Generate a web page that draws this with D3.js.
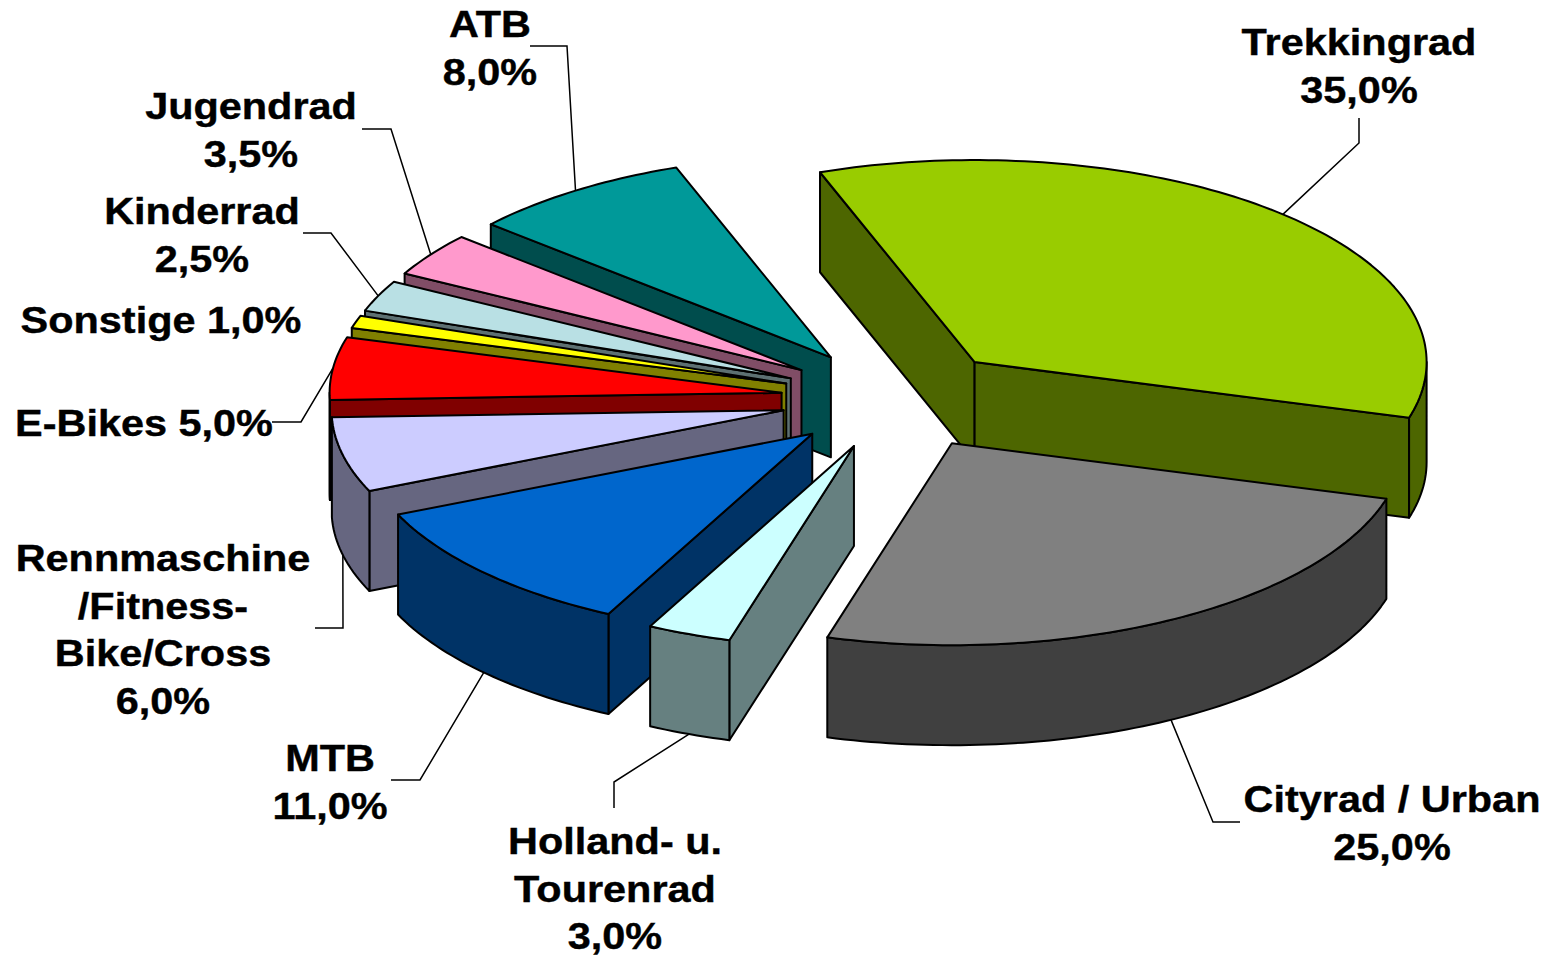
<!DOCTYPE html>
<html>
<head>
<meta charset="utf-8">
<script src="https://cdn.jsdelivr.net/npm/d3@7"></script>
<style>
  html, body { margin: 0; padding: 0; background: #fff; }
  svg { display: block; }
  text { font-family: "Liberation Sans", Arial, sans-serif; font-weight: bold; font-size: 37px; fill: #000; stroke: #000; stroke-width: 0.4px; text-anchor: middle; }
</style>
</head>
<body>
<div id="chart"></div>
<script>
(function() {
  'use strict';

  // clockwise, starting with Trekkingrad
  var categories = ["Trekkingrad", "Cityrad / Urban", "Holland- u. Tourenrad", "MTB", "Rennmaschine /Fitness-Bike/Cross",
    "E-Bikes", "Sonstige", "Kinderrad", "Jugendrad", "ATB"];
  var shares = [35, 25, 3, 11, 6, 5, 1, 2.5, 3.5, 8];
  var topColors = ["#99cc00", "#808080", "#ccffff", "#0066cc", "#ccccff", "#ff0000", "#ffff00", "#b9e0e4", "#ff99cc", "#009999"];
  var wallColors = ["#4d6600", "#404040", "#668080", "#003366", "#666680", "#800000", "#808000", "#5d7072", "#804d66", "#004d4d"];

  // back to front
  var drawOrder = ["ATB", "Jugendrad", "Kinderrad", "Sonstige", "E-Bikes", "Rennmaschine /Fitness-Bike/Cross",
    "MTB", "Holland- u. Tourenrad", "Trekkingrad", "Cityrad / Urban"];

  // label placement: wrapped name lines, centre x, first baseline, leader elbow points
  var labelLayout = {
    "Trekkingrad": {lines: ["Trekkingrad"], x: 1359, y: 55, leader: [[1359, 118], [1359, 143]]},
    "Cityrad / Urban": {lines: ["Cityrad / Urban"], x: 1392, y: 812, leader: [[1240, 822], [1213, 822]]},
    "Holland- u. Tourenrad": {lines: ["Holland- u.", "Tourenrad"], x: 615, y: 854, leader: [[614, 808], [614, 782]]},
    "MTB": {lines: ["MTB"], x: 330, y: 771, leader: [[391, 780], [420, 780]]},
    "Rennmaschine /Fitness-Bike/Cross": {lines: ["Rennmaschine", "/Fitness-", "Bike/Cross"], x: 163, y: 571, leader: [[315, 628], [343, 628]]},
    "E-Bikes": {inline: true, x: 144, y: 436, leader: [[272, 422], [301, 422]]},
    "Sonstige": {inline: true, x: 161, y: 333},
    "Kinderrad": {lines: ["Kinderrad"], x: 202, y: 224, leader: [[303, 233], [331, 233]]},
    "Jugendrad": {lines: ["Jugendrad"], x: 251, y: 119, leader: [[362, 129], [391, 129]]},
    "ATB": {lines: ["ATB"], x: 490, y: 37, leader: [[530, 46], [567, 46]]}
  };

  var width = 1547, height = 956;
  var centerX = 896, centerY = 399;
  var radiusX = 452, radiusY = 202;
  var depth = 100;
  var explodeX = 0.255, explodeY = 0.25;
  var startDeg = -20;
  var textStretch = 1.12;   // the labels in the picture are drawn wider than the font
  var lineHeight = 47.7;

  var svg = d3.select("#chart").append("svg")
    .attr("width", width)
    .attr("height", height);

  var xScale = d3.scaleLinear().domain([-1, 1]).range([centerX - radiusX, centerX + radiusX]);
  var yScale = d3.scaleLinear().domain([-1, 1]).range([centerY - radiusY, centerY + radiusY]);

  var pie = d3.pie()
    .sort(null)
    .startAngle(startDeg * Math.PI / 180)
    .endAngle((startDeg + 360) * Math.PI / 180);

  var line = d3.line();
  var arcs = pie(shares);

  // exploded position on the tilted ellipse, r = 1 is the rim
  function project(arc, angle, r, drop) {
    var mid = (arc.startAngle + arc.endAngle) / 2;
    return [
      xScale(explodeX * Math.sin(mid) + r * Math.sin(angle)),
      yScale(-explodeY * Math.cos(mid) - r * Math.cos(angle)) + (drop || 0)
    ];
  }

  function rimPoints(arc, a0, a1, drop) {
    var n = Math.max(2, Math.ceil((a1 - a0) / 0.02));
    return d3.range(n + 1).map(function(i) {
      return project(arc, a0 + (a1 - a0) * i / n, 1, drop);
    });
  }

  function radialWall(arc, angle) {
    return line([
      project(arc, 0, 0),
      project(arc, angle, 1),
      project(arc, angle, 1, depth),
      project(arc, 0, 0, depth)
    ]) + "Z";
  }

  drawOrder.forEach(function(name) {
    var i = categories.indexOf(name);
    var arc = arcs[i];
    var g = svg.append("g").attr("class", "slice");
    var wallStyle = function(sel) {
      sel.attr("fill", wallColors[i]).attr("stroke", "#000").attr("stroke-width", 2).attr("stroke-linejoin", "round");
    };

    // side faces turned towards the viewer
    if (Math.sin(arc.startAngle) < 0) g.append("path").attr("d", radialWall(arc, arc.startAngle)).call(wallStyle);
    if (Math.sin(arc.endAngle) > 0) g.append("path").attr("d", radialWall(arc, arc.endAngle)).call(wallStyle);

    // only the front half of the rim shows
    var a0 = Math.max(arc.startAngle, Math.PI / 2);
    var a1 = Math.min(arc.endAngle, 3 * Math.PI / 2);
    if (a1 > a0) {
      var rim = rimPoints(arc, a0, a1, 0).concat(rimPoints(arc, a0, a1, depth).reverse());
      g.append("path").attr("d", line(rim) + "Z").call(wallStyle);
    }

    var top = [project(arc, 0, 0)].concat(rimPoints(arc, arc.startAngle, arc.endAngle, 0));
    g.append("path")
      .attr("d", line(top) + "Z")
      .attr("fill", topColors[i])
      .attr("stroke", "#000")
      .attr("stroke-width", 2)
      .attr("stroke-linejoin", "round");
  });

  // leaders and labels
  var fmt = d3.format(".1f");
  function pct(v) { return fmt(v).replace(".", ",") + "%"; }

  categories.forEach(function(name, i) {
    var layout = labelLayout[name];
    var arc = arcs[i];
    var mid = (arc.startAngle + arc.endAngle) / 2;

    if (layout.leader) {
      var end = project(arc, mid, 1, Math.cos(mid) < 0 ? depth : 0);
      svg.append("path")
        .attr("d", line(layout.leader.concat([end])))
        .attr("fill", "none")
        .attr("stroke", "#000")
        .attr("stroke-width", 1.5);
    }

    var lines = layout.inline ? [name + " " + pct(shares[i])] : layout.lines.concat([pct(shares[i])]);
    lines.forEach(function(t, k) {
      svg.append("text")
        .attr("transform", "translate(" + layout.x + "," + (layout.y + k * lineHeight) + ") scale(" + textStretch + ",1)")
        .text(t);
    });
  });
}());
</script>
</body>
</html>
